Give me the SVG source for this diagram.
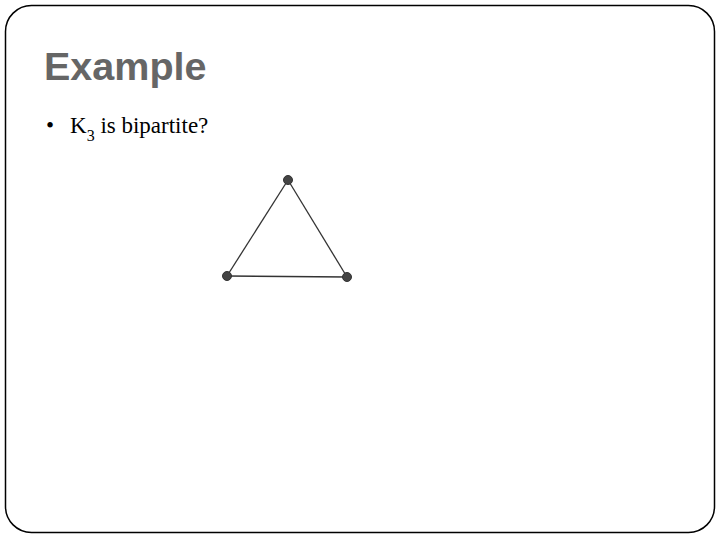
<svg xmlns="http://www.w3.org/2000/svg" width="720" height="540" viewBox="0 0 720 540">
<style>
.title{font-family:"Liberation Sans",Arial,sans-serif;font-weight:bold;font-size:39.5px;fill:#666666}
.body{font-family:"Liberation Serif","Times New Roman",serif;font-size:23px;fill:#000}
.edge{stroke:#333;stroke-width:1.3;fill:none}
.node{fill:#444;stroke:#333;stroke-width:1}
</style>
<rect x="5.5" y="5.5" width="709" height="527" rx="26" ry="26" fill="#fff" stroke="#000" stroke-width="1.5"/>
<text class="title" x="44" y="80">Example</text>
<text class="body" x="46" y="133">•</text>
<text class="body" x="70" y="133">K<tspan font-size="16" dy="8">3</tspan><tspan dy="-8"> is bipartite?</tspan></text>
<g id="connectors">
<line class="edge" x1="288" y1="180" x2="227" y2="276"/>
<line class="edge" x1="288" y1="180" x2="347" y2="277"/>
<line class="edge" x1="227" y1="276" x2="347" y2="277"/>
</g>
<g id="n1"><circle class="node" cx="288" cy="180" r="4.5"/></g>
<g id="n2"><circle class="node" cx="227" cy="276" r="4.5"/></g>
<g id="n3"><circle class="node" cx="347" cy="277" r="4.5"/></g>
</svg>
